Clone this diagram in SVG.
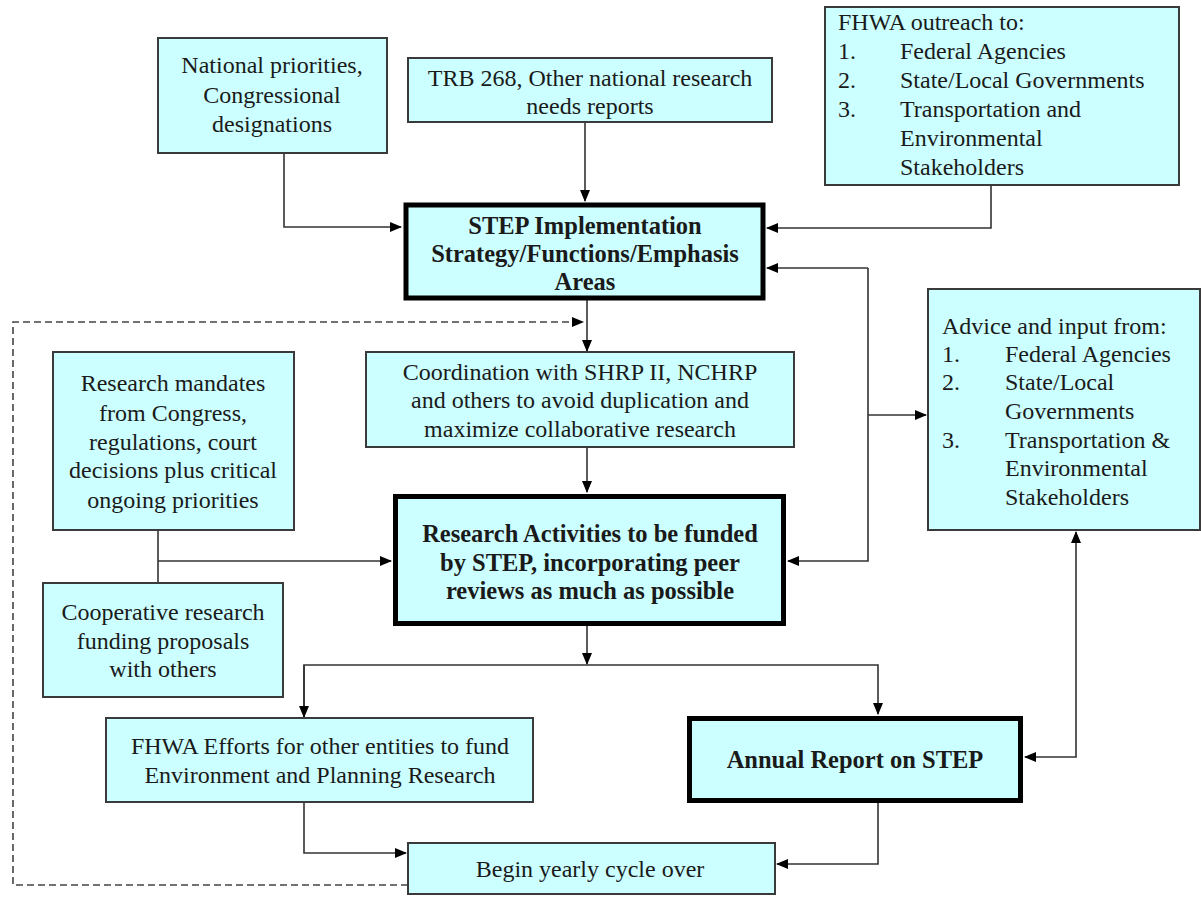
<svg xmlns="http://www.w3.org/2000/svg" width="1201" height="897" viewBox="0 0 1201 897">
<style>
.box{fill:#ccffff;stroke:#3a3a3a;stroke-width:2}
.bold{fill:#ccffff;stroke:#000;stroke-width:5}
text{font-family:"Liberation Serif","Times New Roman",serif;font-size:24px;fill:#1a1a1a}
.c{text-anchor:middle}
.b{font-weight:bold;font-size:24.5px}
.ln{fill:none;stroke:#333;stroke-width:1.6}
.dash{fill:none;stroke:#444;stroke-width:1.6;stroke-dasharray:7 4}
</style>
<defs>
<marker id="ah" markerUnits="userSpaceOnUse" markerWidth="12" markerHeight="12" viewBox="0 0 12 12" refX="11" refY="6" orient="auto-start-reverse">
<path d="M0,1 L12,6 L0,11 Z" fill="#000"/>
</marker>
</defs>
<g id="connectors">
<polyline class="ln" points="284,153 284,227 401,227" marker-end="url(#ah)"/>
<line class="ln" x1="585" y1="122" x2="585" y2="201" marker-end="url(#ah)"/>
<polyline class="ln" points="991,185 991,228 767,228" marker-end="url(#ah)"/>
<line class="ln" x1="868" y1="268" x2="767" y2="268" marker-end="url(#ah)"/>
<polyline class="ln" points="868,268 868,561 788,561" marker-end="url(#ah)"/>
<line class="ln" x1="868" y1="415" x2="926" y2="415" marker-end="url(#ah)"/>
<line class="ln" x1="587" y1="300" x2="587" y2="351" marker-end="url(#ah)"/>
<polyline class="dash" points="408,885 13,885 13,322 583,322" marker-end="url(#ah)"/>
<line class="ln" x1="587" y1="447" x2="587" y2="492" marker-end="url(#ah)"/>
<line class="ln" x1="158" y1="530" x2="158" y2="583"/>
<line class="ln" x1="158" y1="561" x2="391" y2="561" marker-end="url(#ah)"/>
<line class="ln" x1="587" y1="626" x2="587" y2="664" marker-end="url(#ah)"/>
<polyline class="ln" points="304,717 304,665 878,665 878,714" marker-end="url(#ah)"/>
<line class="ln" x1="304" y1="665" x2="304" y2="717" marker-end="url(#ah)"/>
<polyline class="ln" points="304,802 304,853 406,853" marker-end="url(#ah)"/>
<polyline class="ln" points="878,803 878,864 777,864" marker-end="url(#ah)"/>
<polyline class="ln" points="1076,532 1076,757 1025,757" marker-start="url(#ah)" marker-end="url(#ah)"/>
</g>
<g id="n-national">
<rect class="box" x="158" y="38" width="229" height="115"/>
<text class="c" x="272" y="73">National priorities,</text>
<text class="c" x="272" y="103">Congressional</text>
<text class="c" x="272" y="132">designations</text>
</g>
<g id="n-trb">
<rect class="box" x="408" y="58" width="364" height="64"/>
<text class="c" x="590" y="86">TRB 268, Other national research</text>
<text class="c" x="590" y="114">needs reports</text>
</g>
<g id="n-outreach">
<rect class="box" x="825" y="7" width="354" height="178"/>
<text x="838" y="30">FHWA outreach to:</text>
<text x="838" y="59">1.</text><text x="900" y="59">Federal Agencies</text>
<text x="838" y="88">2.</text><text x="900" y="88">State/Local Governments</text>
<text x="838" y="117">3.</text><text x="900" y="117">Transportation and</text>
<text x="900" y="146">Environmental</text>
<text x="900" y="175">Stakeholders</text>
</g>
<g id="n-step">
<rect class="bold" x="406" y="205" width="357" height="93"/>
<text class="c b" x="585" y="234">STEP Implementation</text>
<text class="c b" x="585" y="262">Strategy/Functions/Emphasis</text>
<text class="c b" x="585" y="290">Areas</text>
</g>
<g id="n-coord">
<rect class="box" x="366" y="352" width="428" height="95"/>
<text class="c" x="580" y="380">Coordination with SHRP II, NCHRP</text>
<text class="c" x="580" y="408">and others to avoid duplication and</text>
<text class="c" x="580" y="437">maximize collaborative research</text>
</g>
<g id="n-advice">
<rect class="box" x="928" y="289" width="272" height="241"/>
<text x="942" y="334">Advice and input from:</text>
<text x="942" y="362">1.</text><text x="1005" y="362">Federal Agencies</text>
<text x="942" y="390">2.</text><text x="1005" y="390">State/Local</text>
<text x="1005" y="419">Governments</text>
<text x="942" y="448">3.</text><text x="1005" y="448">Transportation &amp;</text>
<text x="1005" y="476">Environmental</text>
<text x="1005" y="505">Stakeholders</text>
</g>
<g id="n-mandates">
<rect class="box" x="53" y="352" width="241" height="178"/>
<text class="c" x="173" y="391">Research mandates</text>
<text class="c" x="173" y="421">from Congress,</text>
<text class="c" x="173" y="450">regulations, court</text>
<text class="c" x="173" y="478">decisions plus critical</text>
<text class="c" x="173" y="508">ongoing priorities</text>
</g>
<g id="n-research">
<rect class="bold" x="395.5" y="496.5" width="388" height="127"/>
<text class="c b" x="590" y="542">Research Activities to be funded</text>
<text class="c b" x="590" y="571">by STEP, incorporating peer</text>
<text class="c b" x="590" y="599">reviews as much as possible</text>
</g>
<g id="n-coop">
<rect class="box" x="43" y="583" width="240" height="114"/>
<text class="c" x="163" y="620">Cooperative research</text>
<text class="c" x="163" y="649">funding proposals</text>
<text class="c" x="163" y="677">with others</text>
</g>
<g id="n-efforts">
<rect class="box" x="106" y="718" width="427" height="84"/>
<text class="c" x="320" y="754">FHWA Efforts for other entities to fund</text>
<text class="c" x="320" y="783">Environment and Planning Research</text>
</g>
<g id="n-annual">
<rect class="bold" x="689.5" y="718.5" width="331" height="82"/>
<text class="c b" x="855" y="768">Annual Report on STEP</text>
</g>
<g id="n-begin">
<rect class="box" x="408" y="843" width="367" height="51"/>
<text class="c" x="590" y="877">Begin yearly cycle over</text>
</g>
</svg>
